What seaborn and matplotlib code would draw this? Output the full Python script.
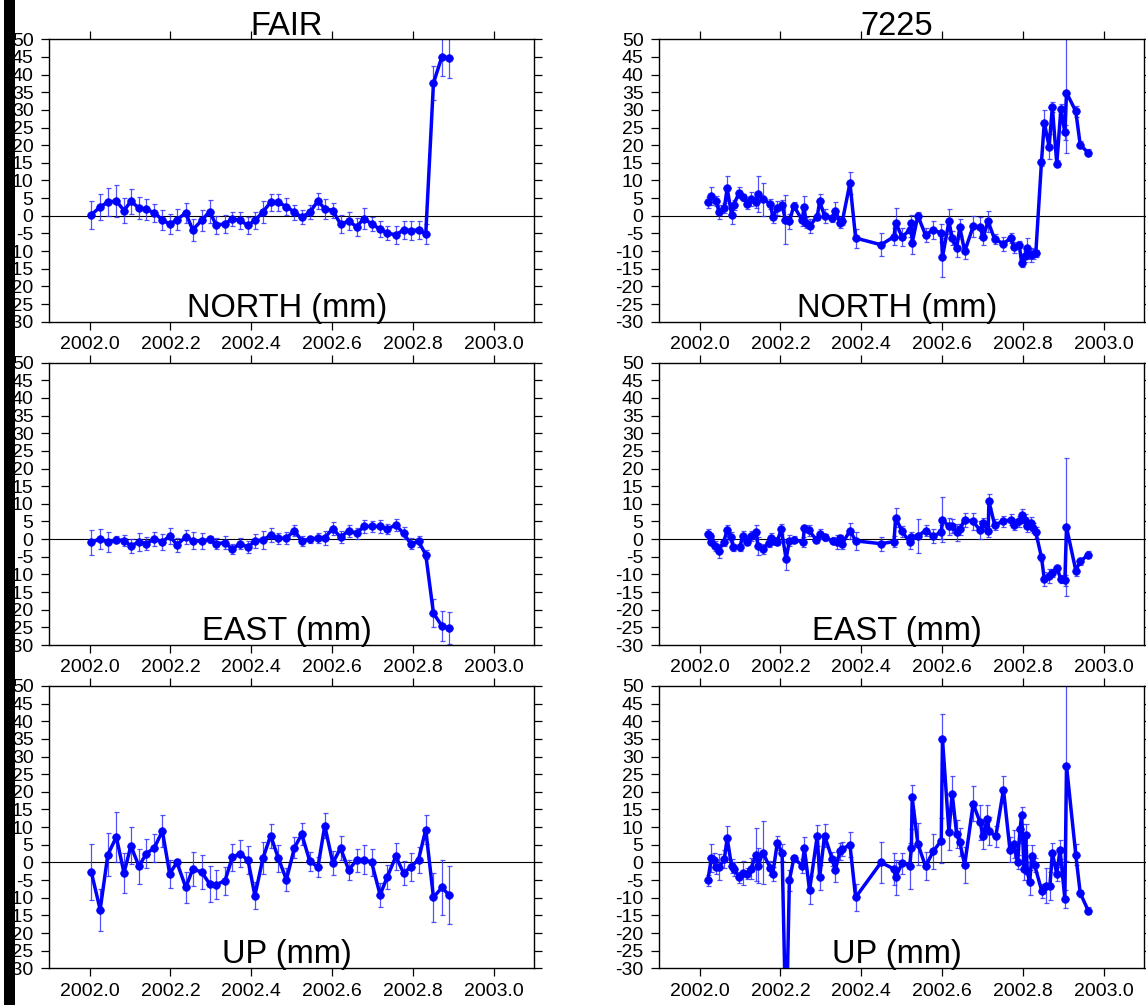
import numpy as np
import pandas as pd
import matplotlib
matplotlib.use('Agg')
import matplotlib.pyplot as plt
from matplotlib.patches import Rectangle
import seaborn as sns

# ---- FAIR (weekly solutions) ----
t_fair = [2002.004, 2002.026, 2002.045, 2002.066, 2002.085, 2002.102, 2002.122, 2002.140, 2002.160, 2002.180,
          2002.198, 2002.216, 2002.238, 2002.255, 2002.277, 2002.297, 2002.313, 2002.335, 2002.353, 2002.372,
          2002.392, 2002.409, 2002.429, 2002.448, 2002.467, 2002.487, 2002.507, 2002.525, 2002.545, 2002.565,
          2002.582, 2002.602, 2002.621, 2002.641, 2002.661, 2002.679, 2002.698, 2002.719, 2002.737, 2002.758,
          2002.777, 2002.795, 2002.814, 2002.832, 2002.851, 2002.872, 2002.890]
fair_n = [0.3, 2.5, 3.9, 4.2, 1.5, 4.1, 2.2, 1.9, 0.8, -1.1, -2.4, -1.1, 0.8, -4.0, -1.3, 1.2, -2.6, -2.3, -0.8,
          -1.3, -2.7, -1.3, 1.1, 3.9, 3.8, 2.6, 1.0,
          -0.4, 1.0, 4.2, 2.0, 1.5, -2.4, -1.5, -3.1, -0.8, -2.3, -3.8, -4.9, -5.4, -4.0, -4.2, -4.0, -5.1,
          37.6, 45.1, 44.7]
fair_n_err = [4.0, 3.8, 4.0, 4.4, 3.5, 3.5, 3.2, 3.0, 2.5, 2.8, 2.8, 3.0, 2.8, 3.2, 3.0, 3.3, 2.5, 2.5, 2.0,
              2.5, 2.5, 2.5, 3.0, 2.4, 2.4, 2.5, 2.2,
              2.0, 2.0, 2.2, 2.8, 2.0, 2.5, 2.5, 2.5, 3.0, 2.0, 2.2, 2.0, 2.5, 2.5, 2.6, 2.6, 2.8, 4.8, 5.5, 5.8]
fair_e = [-0.9, 0.1, -0.9, -0.2, -0.4, -1.9, -0.8, -1.3, 0.1, -0.8, 0.9, -1.6, 0.6, -0.4, -0.6, -0.1, -1.3,
          -1.0, -2.8, -1.3, -2.3, -0.5, -0.2, 1.1, 0.2, 0.3, 2.4,
          -0.5, 0.0, 0.3, 0.4, 3.0, 0.5, 2.4, 1.6, 3.6, 3.6, 3.6, 2.9, 4.0, 1.6, -1.3, -0.6, -4.4,
          -21.0, -24.6, -25.2]
fair_e_err = [3.5, 2.8, 2.8, 1.0, 1.5, 2.0, 2.5, 1.8, 2.0, 2.2, 2.3, 2.0, 2.0, 2.5, 2.2, 1.0, 1.5, 1.8, 1.5,
              1.5, 1.7, 2.0, 2.5, 2.0, 1.5, 1.8, 1.5,
              1.5, 1.0, 1.5, 2.0, 1.8, 1.7, 1.7, 1.5, 1.8, 1.5, 1.8, 1.5, 1.6, 1.7, 1.5, 1.5, 1.3, 4.0, 4.3, 4.5]
fair_u = [-2.7, -13.4, 2.2, 7.2, -3.0, 4.7, -1.1, 2.5, 4.1, 8.9, -3.2, 0.0, -7.1, -1.9, -2.7, -6.1, -6.3,
          -5.2, 1.4, 2.5, 0.6, -9.4, 1.2, 7.6, 1.2, -4.9, 4.2,
          8.0, 0.3, -1.3, 10.4, -0.2, 4.1, -2.1, 0.6, 0.8, 0.0, -9.2, -4.0, 1.7, -3.0, -1.3, 0.8, 9.3,
          -9.9, -7.1, -9.3]
fair_u_err = [7.9, 5.9, 6.1, 7.0, 5.7, 5.2, 5.0, 4.2, 3.9, 4.5, 4.0, 1.0, 4.5, 4.8, 4.7, 5.1, 4.2, 4.0, 3.9,
              3.8, 4.0, 3.8, 4.6, 3.4, 3.8, 3.2, 3.0,
              3.1, 2.7, 2.7, 3.5, 3.4, 3.5, 2.8, 3.3, 4.1, 3.8, 3.3, 3.4, 3.8, 3.4, 3.9, 3.7, 4.2, 7.0, 7.7, 8.2]

# ---- 7225 ----
t_7225_n = [2002.020, 2002.029, 2002.041, 2002.048, 2002.061, 2002.068, 2002.079, 2002.084, 2002.098, 2002.107,
            2002.117, 2002.127, 2002.139, 2002.145, 2002.156, 2002.175, 2002.181, 2002.192, 2002.204, 2002.212,
            2002.222, 2002.233, 2002.254, 2002.258, 2002.264, 2002.273, 2002.291, 2002.297, 2002.309, 2002.328,
            2002.336, 2002.347, 2002.353, 2002.372, 2002.386,
            2002.449, 2002.481, 2002.485, 2002.501, 2002.520, 2002.524, 2002.526, 2002.540, 2002.559, 2002.578,
            2002.598, 2002.601, 2002.617, 2002.625, 2002.636, 2002.644, 2002.656, 2002.677, 2002.694, 2002.702,
            2002.714, 2002.730, 2002.752, 2002.770, 2002.778, 2002.791, 2002.797, 2002.805, 2002.811, 2002.820,
            2002.826, 2002.832, 2002.846, 2002.853, 2002.865, 2002.873, 2002.884, 2002.894, 2002.904, 2002.908,
            2002.931, 2002.942, 2002.962]
n_7225 = [3.8, 5.7, 4.2, 1.0, 2.2, 7.8, 0.3, 3.1, 6.6, 5.2, 3.4, 4.7, 3.8, 6.2, 4.7, 3.4, -0.4, 2.2, 3.1, -1.1,
          -1.6, 2.8, -1.3, 2.5, -1.9, -2.8, -0.2, 4.1, 0.0, -0.7, 1.5, -1.9, -1.6, 9.3, -6.3,
          -8.2, -5.9, -1.9, -6.0, -4.0, -1.9, -7.7, 0.0, -5.4, -4.0, -4.9, -11.7, -1.6, -6.3, -9.2, -3.3,
          -10.1, -3.0, -3.2, -5.9, -1.6, -6.6, -7.9, -6.3, -8.9, -8.2, -13.4, -11.5, -9.2, -11.0, -10.8,
          -10.6, 15.1, 26.4, 19.6, 30.8, 14.7, 30.2, 23.6, 34.9, 29.6, 20.1, 17.8]
n_7225_err = [1.5, 2.5, 1.5, 2.0, 1.5, 3.5, 2.5, 1.5, 1.5, 1.0, 1.5, 2.0, 1.5, 5.0, 4.7, 1.5, 1.5, 2.0, 1.5,
              7.0, 2.0, 1.0, 1.5, 3.0, 1.5, 2.0, 1.0, 2.0, 2.0, 1.0, 2.5, 1.5, 1.0, 3.0, 2.7,
              3.3, 2.5, 4.0, 2.5, 2.0, 2.0, 3.0, 1.0, 2.0, 2.5, 2.5, 5.5, 3.5, 2.0, 2.5, 2.5, 2.0, 3.0, 3.0,
              2.5, 3.0, 1.5, 2.0, 1.5, 1.5, 1.0, 1.0, 1.5, 3.0, 2.0, 1.5, 1.0, 1.0, 3.5, 3.5, 1.5, 1.0, 1.5,
              2.0, 17.0, 1.5, 1.0, 1.0]

t_7225_e = [2002.020, 2002.025, 2002.029, 2002.039, 2002.047, 2002.059, 2002.068, 2002.078, 2002.083, 2002.099,
            2002.107, 2002.117, 2002.127, 2002.140, 2002.144, 2002.156, 2002.171, 2002.177, 2002.183, 2002.192,
            2002.202, 2002.214, 2002.222, 2002.233, 2002.256, 2002.259, 2002.270, 2002.289, 2002.297, 2002.309,
            2002.330, 2002.339, 2002.347, 2002.353, 2002.372, 2002.386,
            2002.449, 2002.481, 2002.485, 2002.501, 2002.520, 2002.524, 2002.540, 2002.559, 2002.578, 2002.598,
            2002.601, 2002.617, 2002.625, 2002.636, 2002.644, 2002.656, 2002.677, 2002.694, 2002.702, 2002.714,
            2002.716, 2002.730, 2002.752, 2002.770, 2002.778, 2002.791, 2002.797, 2002.805, 2002.811, 2002.820,
            2002.826, 2002.832, 2002.846, 2002.853, 2002.865, 2002.873, 2002.884, 2002.894, 2002.904, 2002.908,
            2002.931, 2002.942, 2002.962]
e_7225 = [1.5, 0.8, -0.7, -1.9, -3.3, -0.9, 2.5, 0.6, -2.3, -2.3, 0.9, -0.7, 0.9, 1.9, -1.9, -2.8, -1.1, 0.3,
          -0.5, -0.7, 2.9, -5.7, -0.4, -0.2, -0.8, 3.1, 2.5, -0.2, 1.4, 0.5, -0.5, -0.9, 0.3, -1.3, 2.4, -0.5,
          -1.3, -0.7, 6.1, 2.2, -0.9, 0.6, 0.9, 2.4, 0.9, 1.9, 5.5, 3.6, 3.6, 1.9, 2.8, 5.5, 5.0, 2.5, 4.5,
          2.2, 10.7, 4.1, 5.0, 5.5, 4.1, 5.0, 6.9, 5.5, 3.6, 4.7, 3.1, 1.9, -5.1, -11.3, -10.4, -9.6, -8.2,
          -11.3, -11.7, 3.4, -8.9, -6.3, -4.4]
e_7225_err = [1.5, 1.0, 1.0, 1.5, 2.0, 1.0, 1.5, 1.5, 1.0, 1.0, 1.5, 1.0, 1.5, 2.0, 2.5, 1.5, 1.0, 1.5, 1.0,
              1.0, 1.5, 3.0, 1.5, 1.0, 1.5, 1.0, 1.5, 1.0, 1.5, 1.0, 1.0, 2.0, 1.0, 1.5, 2.3, 2.5,
              2.0, 1.5, 2.8, 1.5, 2.0, 1.5, 4.8, 1.5, 2.0, 2.0, 6.3, 2.5, 2.0, 2.5, 1.5, 2.0, 2.5, 2.6, 1.5,
              1.5, 2.0, 1.5, 1.5, 1.5, 1.5, 1.5, 1.5, 1.5, 1.5, 1.5, 1.5, 1.5, 1.0, 2.0, 2.0, 1.0, 1.0, 1.0,
              1.5, 19.6, 1.5, 1.0, 1.0]

t_7225_u = [2002.020, 2002.029, 2002.035, 2002.041, 2002.048, 2002.061, 2002.068, 2002.079, 2002.084, 2002.098,
            2002.107, 2002.117, 2002.127, 2002.139, 2002.145, 2002.156, 2002.175, 2002.181, 2002.192, 2002.204,
            2002.214, 2002.222, 2002.233, 2002.254, 2002.259, 2002.272, 2002.291, 2002.297, 2002.309, 2002.328,
            2002.336, 2002.347, 2002.353, 2002.372, 2002.386,
            2002.449, 2002.481, 2002.485, 2002.501, 2002.520, 2002.524, 2002.526, 2002.540, 2002.559, 2002.578,
            2002.598, 2002.601, 2002.617, 2002.625, 2002.636, 2002.644, 2002.656, 2002.677, 2002.694, 2002.702,
            2002.712, 2002.716, 2002.733, 2002.752, 2002.768, 2002.778, 2002.787, 2002.793, 2002.797, 2002.803,
            2002.807, 2002.811, 2002.817, 2002.822, 2002.829, 2002.847, 2002.857, 2002.867, 2002.873, 2002.884,
            2002.892, 2002.904, 2002.908, 2002.931, 2002.942, 2002.962]
u_7225 = [-5.1, 1.2, 0.8, -1.3, -1.3, 0.9, 6.9, -1.1, -1.9, -4.2, -3.0, -3.2, -1.8, 2.2, -0.9, 2.8, -1.6, -3.2,
          5.5, 2.8, -50.0, -5.1, 1.2, -0.9, 4.1, -7.9, 7.6, -4.2, 7.6, 1.0, -2.1, 3.1, 3.8, 5.0, -9.9,
          0.0, -1.9, -4.2, -0.2, -0.9, 4.1, 18.4, 5.3, -1.1, 3.1, 6.2, 35.0, 8.6, 19.5, 8.1, 5.7, -0.7, 16.6,
          11.4, 7.4, 12.4, 8.8, 7.4, 20.6, 3.6, 5.3, 0.0, 9.4, 13.3, -1.9, 7.8, -2.5, -5.6, 1.9, -0.7, -8.2,
          -6.6, -6.6, 2.6, -3.2, 3.6, -10.4, 27.4, 2.2, -8.7, -13.7]
u_7225_err = [1.5, 4.0, 2.0, 2.0, 3.8, 2.5, 3.3, 2.0, 2.0, 1.5, 3.5, 1.5, 3.0, 7.5, 5.0, 8.8, 2.0, 2.0, 2.0,
              2.5, 3.0, 3.0, 1.0, 2.0, 3.0, 4.0, 3.0, 3.5, 3.2, 2.0, 3.5, 2.5, 2.0, 3.5, 3.8,
              5.8, 4.5, 5.0, 3.0, 6.5, 5.5, 3.6, 6.0, 4.0, 5.0, 6.5, 7.0, 5.0, 5.0, 4.0, 4.0, 5.0, 5.0, 5.0,
              3.5, 4.0, 4.0, 3.0, 3.8, 3.5, 4.0, 2.0, 4.0, 2.5, 3.0, 3.0, 2.5, 3.5, 3.0, 2.0, 2.0, 5.0, 4.0,
              3.0, 2.0, 2.7, 2.5, 27.0, 3.0, 1.0, 1.0]

stations = ['FAIR', '7225']
components = ['NORTH (mm)', 'EAST (mm)', 'UP (mm)']
x_ticks = [2002.0, 2002.2, 2002.4, 2002.6, 2002.8, 2003.0]
y_ticks = list(range(-30, 51, 5))

sns.set_style('ticks')
plt.rcParams['font.family'] = ['Liberation Sans', 'DejaVu Sans']
plt.rcParams['axes.unicode_minus'] = False
plt.rcParams['text.color'] = 'black'
plt.rcParams['xtick.color'] = 'black'
plt.rcParams['ytick.color'] = 'black'


def draw_panel(ax, t, v, err, label, title=None):
    df = pd.DataFrame({'t': t, 'v': v, 'err': err})
    # error bars first, then the line with dots on top
    ax.errorbar(df['t'], df['v'], yerr=df['err'], fmt='none', ecolor=(0.2, 0.2, 1.0, 0.85),
                elinewidth=0.9, capsize=1.8, capthick=0.9, zorder=2)
    sns.lineplot(data=df, x='t', y='v', ax=ax, color='#0000ff', lw=2.5, marker='o', markersize=5.5,
                 markeredgecolor='#0000ff', markeredgewidth=0.5, estimator=None, sort=False, zorder=3)
    ax.axhline(0, color='black', lw=0.8, zorder=1)
    ax.set_xlim(2001.9, 2003.1)
    ax.set_ylim(-30, 50)
    ax.set_xticks(x_ticks)
    ax.set_xticklabels(['%.1f' % x for x in x_ticks])
    ax.set_yticks(y_ticks)
    ax.set_xlabel('')
    ax.set_ylabel('')
    ax.tick_params(axis='both', direction='out', length=5.8, width=0.9, labelsize=14,
                   top=True, right=True, labeltop=False, labelright=False,
                   colors='black', labelcolor='black')
    ax.tick_params(axis='y', pad=5.5)
    ax.tick_params(axis='x', pad=4.5)
    for s in ax.spines.values():
        s.set_linewidth(1.0)
        s.set_color('black')
    ax.text(0.4897, 0.018, label, transform=ax.transAxes, ha='center', va='baseline',
            fontsize=23.5, color='black')
    if title:
        ax.text(0.4897, 1.015, title, transform=ax.transAxes, ha='center', va='baseline',
                fontsize=23.5, color='black')


fig = plt.figure(figsize=(11.46, 10.05), dpi=100)
lefts = [0.0430, 0.5753]
bottoms = [0.6799, 0.3582, 0.0365]
w, h = 0.4230, 0.2810

data = {
    'FAIR': [(t_fair, fair_n, fair_n_err), (t_fair, fair_e, fair_e_err), (t_fair, fair_u, fair_u_err)],
    '7225': [(t_7225_n, n_7225, n_7225_err), (t_7225_e, e_7225, e_7225_err), (t_7225_u, u_7225, u_7225_err)],
}

for i, st in enumerate(stations):
    for j, comp in enumerate(components):
        ax = fig.add_axes([lefts[i], bottoms[j], w, h])
        t, v, err = data[st][j]
        draw_panel(ax, t, v, err, comp, title=st if j == 0 else None)

# black strip along the left edge
fig.add_artist(Rectangle((4 / 1146, 0), 11 / 1146, 1, transform=fig.transFigure,
                         facecolor='black', edgecolor='none', zorder=10))

fig.savefig('out.png', dpi=100)
